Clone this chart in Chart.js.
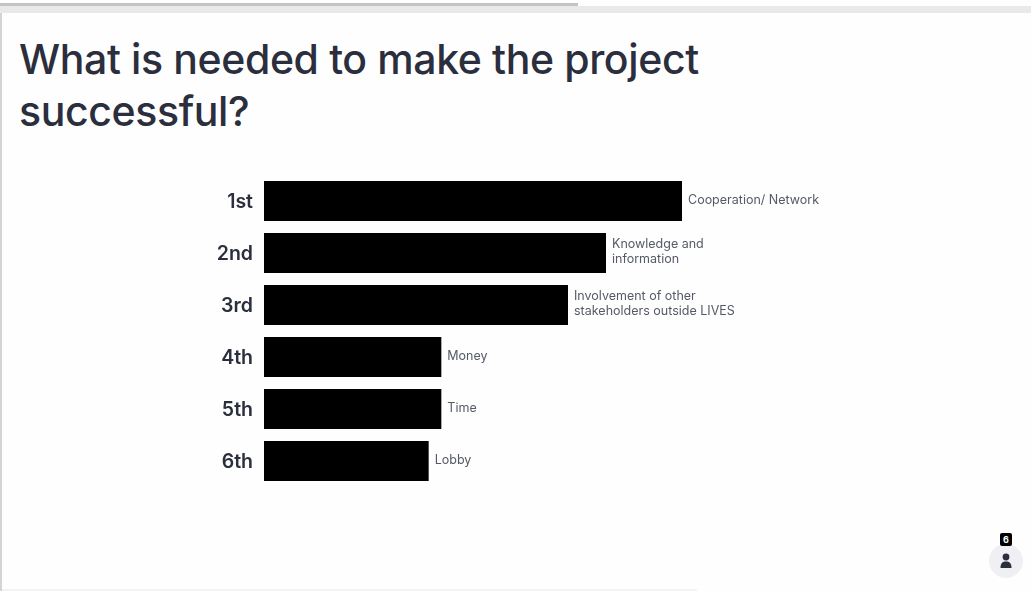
<!DOCTYPE html>
<html>
<head>
<meta charset="utf-8">
<title>What is needed to make the project successful?</title>
<script src="https://cdn.jsdelivr.net/npm/chart.js@4"></script>
<style>
    html, body { margin: 0; padding: 0; background: #fefefe; }
    body { position: relative; width: 1031px; height: 591px; overflow: hidden; font-family: "Inter", sans-serif; }
    #grafica { position: absolute; left: 0; top: 0; }
    .barra-top { position: absolute; left: 0; top: 3px; width: 578px; height: 3px; background: #c4c4c4; }
    .franja-top { position: absolute; left: 0; top: 6px; width: 1031px; height: 7px; background: #e9e9e9; }
    .borde-izq { position: absolute; left: 0; top: 13px; width: 2px; height: 578px; background: #d4d4d4; }
    .borde-inf { position: absolute; left: 2px; top: 589px; width: 695px; height: 2px; background: #f3f3f3; }
    h1 {
        position: absolute; left: 19px; top: 33px; margin: 0; width: 720px;
        font: 500 41px/52px "Inter", sans-serif; letter-spacing: -0.38px; color: #2a2e3d;
    }
    .avatar { position: absolute; left: 989px; top: 544px; width: 34px; height: 34px; border-radius: 50%; background: #f0f0f4; }
    .avatar svg { position: absolute; left: 10px; top: 9px; }
    .contador {
        position: absolute; left: 1000px; top: 533px; width: 12px; height: 13px; border-radius: 2px;
        background: #000; color: #fff; font: 700 9px/13px "Inter", sans-serif; text-align: center;
    }
</style>
</head>
<body>
    <div class="barra-top"></div>
    <div class="franja-top"></div>
    <div class="borde-izq"></div>
    <div class="borde-inf"></div>
    <h1>What is needed to make the project<br>successful?</h1>
    <canvas id="grafica" width="1031" height="591"></canvas>
    <div class="avatar">
        <svg width="14" height="16" viewBox="0 0 14 16">
            <circle cx="7" cy="4" r="3.4" fill="#2a2e3d"/>
            <path d="M1.5 15 C1.5 10 3.5 8.5 7 8.5 C10.5 8.5 12.5 10 12.5 15 Z" fill="#2a2e3d"/>
        </svg>
    </div>
    <div class="contador">6</div>

<script>
const puestos = ['1st', '2nd', '3rd', '4th', '5th', '6th'];
const votos = [33, 27, 24, 14, 14, 13];
const respuestas = [
    ['Cooperation/ Network'],
    ['Knowledge and', 'information'],
    ['Involvement of other', 'stakeholders outside LIVES'],
    ['Money'],
    ['Time'],
    ['Lobby']
];
const votosMax = 60;

// Escribe la respuesta a la derecha de cada barra
const etiquetasBarras = {
    id: 'etiquetasBarras',
    afterDatasetsDraw(chart) {
        const ctx = chart.ctx;
        const barras = chart.getDatasetMeta(0).data;
        ctx.save();
        ctx.font = '400 12.5px "Inter", sans-serif';
        ctx.fillStyle = '#555a66';
        ctx.textAlign = 'left';
        ctx.textBaseline = 'middle';
        barras.forEach((barra, i) => {
            const lineas = respuestas[i];
            const inicio = barra.y - 1 - (lineas.length - 1) * 7.5;
            lineas.forEach((linea, j) => {
                ctx.fillText(linea, barra.x + 6, inicio + j * 15);
            });
        });
        ctx.restore();
    }
};

new Chart(document.getElementById('grafica'), {
    type: 'bar',
    data: {
        labels: puestos,
        datasets: [{
            data: votos,
            backgroundColor: '#000',
            borderWidth: 0,
            barPercentage: 40 / 52,
            categoryPercentage: 1
        }]
    },
    options: {
        indexAxis: 'y',
        responsive: false,
        animation: false,
        layout: { padding: { top: 175, bottom: 104, left: 0, right: 7 } },
        plugins: { legend: { display: false }, tooltip: { enabled: false } },
        scales: {
            x: { display: false, min: 0, max: votosMax },
            y: {
                afterFit(scale) { scale.width = 264; },
                border: { display: false },
                grid: { display: false, drawTicks: false },
                ticks: {
                    padding: 11,
                    labelOffset: 1,
                    color: '#2a2e3d',
                    font: { family: 'Inter', size: 19.5, weight: '600' }
                }
            }
        }
    },
    plugins: [etiquetasBarras]
});
</script>
</body>
</html>
